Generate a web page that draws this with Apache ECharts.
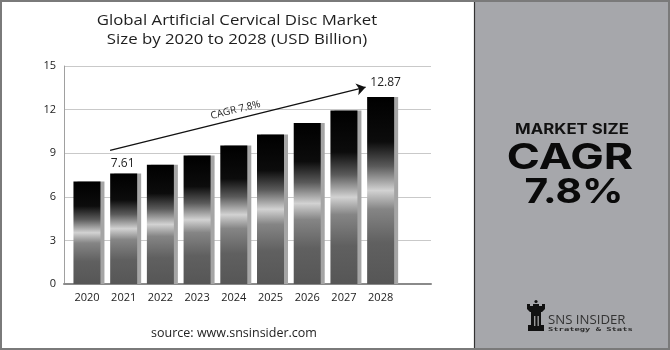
<!DOCTYPE html>
<html>
<head>
<meta charset="utf-8">
<script src="https://cdn.jsdelivr.net/npm/echarts@6/dist/echarts.min.js"></script>
<style>
  html, body { margin: 0; padding: 0; background: #fff; }
  #chart { width: 670px; height: 350px; }
</style>
</head>
<body>
<div id="chart"></div>
<script>
// Market size, USD billion
const years = ['2020', '2021', '2022', '2023', '2024', '2025', '2026', '2027', '2028'];
const marketSize = [7.06, 7.61, 8.20, 8.84, 9.53, 10.28, 11.08, 11.94, 12.87];
const labeledYears = ['2021', '2028'];

// Value axis
const yMin = 0;
const yMax = 15;
const yStep = 3;

// CAGR arrow end points: [category position, value]
const cagrArrow = [[0.63, 9.2], [7.59, 13.54]];
const cagrText = 'CAGR 7.8%';

const title = ['Global Artificial Cervical Disc Market', 'Size by 2020 to 2028 (USD Billion)'];
const sourceText = 'source: www.snsinsider.com';

const chart = echarts.init(document.getElementById('chart'), null, { renderer: 'canvas' });

const barFill = new echarts.graphic.LinearGradient(0, 0, 0, 1, [
  { offset: 0.00, color: '#000000' },
  { offset: 0.24, color: '#0c0c0c' },
  { offset: 0.37, color: '#5a5a5a' },
  { offset: 0.50, color: '#d2d2d2' },
  { offset: 0.60, color: '#858585' },
  { offset: 0.78, color: '#606060' },
  { offset: 1.00, color: '#565656' }
]);

const barData = marketSize.map((v, i) => {
  const item = { value: v };
  if (labeledYears.includes(years[i])) {
    const last = i === years.length - 1;
    item.label = {
      show: true,
      position: 'top',
      distance: last ? 8 : 4,
      offset: last ? [5, 0] : [-1, 0],
      formatter: String(v.toFixed(2)),
      fontFamily: 'Open Sans',
      fontSize: 12,
      color: '#1e1e1e'
    };
  }
  return item;
});

const textFont = 'Open Sans';

const option = {
  animation: false,
  backgroundColor: '#ffffff',
  grid: [
    { left: 64, right: 239, top: 66, bottom: 66 },
    { left: 68.6, right: 271, top: 66, bottom: 66 }
  ],
  xAxis: [
    {
      gridIndex: 0, type: 'value', min: 0, max: 1,
      axisLine: { show: true, lineStyle: { color: '#8a8a8a', width: 2 } },
      axisTick: { show: false }, axisLabel: { show: false }, splitLine: { show: false }
    },
    {
      gridIndex: 1, type: 'category', data: years,
      axisLine: { show: false }, axisTick: { show: false },
      axisLabel: { margin: 8, fontFamily: textFont, fontSize: 11, color: '#222' }
    },
    {
      gridIndex: 1, type: 'value', min: -0.5, max: 8.5, show: false
    }
  ],
  yAxis: [
    {
      gridIndex: 0, type: 'value', min: yMin, max: yMax, interval: yStep,
      axisLine: { show: true, lineStyle: { color: '#a0a0a0', width: 1 } },
      axisTick: { show: false },
      axisLabel: { margin: 8, fontFamily: textFont, fontSize: 11, color: '#222' },
      splitLine: { show: true, lineStyle: { color: '#c9c9c9', width: 1 } }
    },
    {
      gridIndex: 1, type: 'value', min: yMin, max: yMax, show: false
    }
  ],
  series: [
    {
      type: 'bar',
      xAxisIndex: 1, yAxisIndex: 1,
      barWidth: 27,
      data: barData,
      itemStyle: {
        color: barFill,
        shadowColor: 'rgba(165,165,165,1)',
        shadowOffsetX: 4,
        shadowOffsetY: 0,
        shadowBlur: 0
      },
      emphasis: { disabled: true }
    },
    {
      type: 'line',
      xAxisIndex: 2, yAxisIndex: 1,
      data: [],
      markLine: {
        silent: true,
        symbol: ['none', 'arrow'],
        symbolSize: 9,
        lineStyle: { color: '#111', width: 1.3, type: 'solid' },
        label: {
          show: true, position: 'middle', formatter: cagrText,
          fontFamily: textFont, fontSize: 10, color: '#222', distance: 4
        },
        data: [[{ coord: cagrArrow[0] }, { coord: cagrArrow[1] }]]
      }
    }
  ],
  graphic: [
    // outer frame
    { type: 'rect', shape: { x: 1, y: 1, width: 668, height: 348 },
      style: { fill: 'none', stroke: '#7a7a7a', lineWidth: 2 }, z: 100 },
    // side panel
    { type: 'rect', shape: { x: 474, y: 0, width: 196, height: 350 },
      style: { fill: '#a6a7ab', stroke: 'none' }, z: 1 },
    { type: 'line', shape: { x1: 474.5, y1: 0, x2: 474.5, y2: 350 },
      style: { stroke: '#333', lineWidth: 1.2 }, z: 2 },
    // title
    { type: 'text', x: 237, y: 21, scaleX: 1.12, z: 5,
      style: { text: title[0], textAlign: 'center', textVerticalAlign: 'middle',
        font: '15px "Open Sans"', fill: '#1e1e1e' } },
    { type: 'text', x: 237, y: 40, scaleX: 1.12, z: 5,
      style: { text: title[1], textAlign: 'center', textVerticalAlign: 'middle',
        font: '15px "Open Sans"', fill: '#1e1e1e' } },
    // source
    { type: 'text', x: 234, y: 333, z: 5,
      style: { text: sourceText, textAlign: 'center', textVerticalAlign: 'middle',
        font: '12.5px "Open Sans"', fill: '#222' } },
    // panel headline
    { type: 'text', x: 572, y: 129, scaleX: 1.12, z: 5,
      style: { text: 'MARKET SIZE', textAlign: 'center', textVerticalAlign: 'middle',
        font: 'bold 15px Inter', fill: '#111' } },
    { type: 'text', x: 570, y: 158, scaleX: 1.28, z: 5,
      style: { text: 'CAGR', textAlign: 'center', textVerticalAlign: 'middle',
        font: 'bold 35px Inter', fill: '#0a0a0a' } },
    { type: 'text', x: 574, y: 193, scaleX: 1.2, z: 5,
      style: { text: '7.8%', textAlign: 'center', textVerticalAlign: 'middle',
        font: 'bold 34px Inter', fill: '#0a0a0a' } },
    // logo: rook
    { type: 'circle', z: 6, shape: { cx: 536, cy: 301.5, r: 1.6 }, style: { fill: '#111' } },
    { type: 'polygon', z: 6, shape: { points: [[527,304],[530,304],[530,306],[533,306],[533,304],[539,304],[539,306],[542,306],[542,304],[545,304],[545,309],[542,312],[530,312],[527,309]] },
      style: { fill: '#111' } },
    { type: 'rect', z: 6, shape: { x: 531, y: 312, width: 10, height: 13 }, style: { fill: '#111' } },
    { type: 'rect', z: 7, shape: { x: 534, y: 316, width: 1.4, height: 10 }, style: { fill: '#9a9a9a' } },
    { type: 'rect', z: 7, shape: { x: 537.5, y: 316, width: 1.4, height: 10 }, style: { fill: '#9a9a9a' } },
    { type: 'rect', z: 6, shape: { x: 528, y: 325, width: 16, height: 6 }, style: { fill: '#111' } },
    { type: 'text', x: 548, y: 320.5, scaleX: 1.1, z: 6,
      style: { text: 'SNS INSIDER', textAlign: 'left', textVerticalAlign: 'middle',
        font: '12px "Open Sans"', fill: '#333' } },
    { type: 'text', x: 548, y: 329.5, scaleX: 1.6, z: 6,
      style: { text: 'Strategy & Stats', textAlign: 'left', textVerticalAlign: 'middle',
        font: 'bold 5.5px "DejaVu Sans Mono"', fill: '#2a2a2a' } }
  ]
};

chart.setOption(option);
</script>
</body>
</html>
